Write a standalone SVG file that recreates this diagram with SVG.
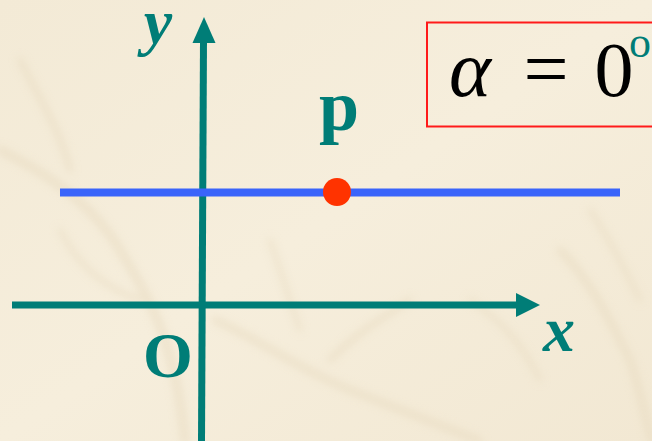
<svg xmlns="http://www.w3.org/2000/svg" width="652" height="441" viewBox="0 0 652 441">
  <defs>
    <style>
      .axis { stroke: #007D77; stroke-width: 7; fill: none; }
      .head { fill: #007D77; }
      .branch { stroke: #E4D6B9; fill: none; stroke-linecap: round; stroke-linejoin: round; }
    </style>
    <filter id="soft" x="-10%" y="-10%" width="120%" height="120%">
      <feGaussianBlur stdDeviation="4"/>
    </filter>
    <linearGradient id="bg" x1="0" y1="0" x2="1" y2="1">
      <stop offset="0" stop-color="#F3EAD6"/>
      <stop offset="0.5" stop-color="#F6EEDC"/>
      <stop offset="1" stop-color="#F2E8D3"/>
    </linearGradient>
  </defs>

  <!-- background -->
  <rect x="0" y="0" width="652" height="441" fill="url(#bg)"/>
  <g id="texture" filter="url(#soft)" opacity="0.5">
    <path class="branch" stroke-width="8" d="M0,150 C40,170 90,200 120,250 C150,300 175,340 185,441"/>
    <path class="branch" stroke-width="6" d="M20,60 C40,100 60,130 70,170"/>
    <path class="branch" stroke-width="5" d="M60,230 C80,270 110,290 140,300"/>
    <path class="branch" stroke-width="7" d="M215,320 C260,340 300,370 350,390 C400,410 440,425 480,441"/>
    <path class="branch" stroke-width="5" d="M270,240 C280,270 290,300 300,330"/>
    <path class="branch" stroke-width="6" d="M330,360 C360,330 380,320 410,300"/>
    <path class="branch" stroke-width="7" d="M560,250 C590,280 610,320 630,360 C640,390 646,420 652,441"/>
    <path class="branch" stroke-width="5" d="M590,210 C610,240 625,270 640,300"/>
    <path class="branch" stroke-width="5" d="M470,300 C500,320 520,340 540,380"/>
  </g>

  <!-- highlight box -->
  <g id="angle-box">
    <rect x="427" y="22.5" width="240" height="104" fill="none" stroke="#FF1A1A" stroke-width="2"/>
    <text x="470" y="96" font-family="Liberation Serif" font-size="80" font-style="italic" text-anchor="middle" fill="#000">α</text>
    <text x="546" y="96" font-family="Liberation Serif" font-size="80" text-anchor="middle" fill="#000">=</text>
    <text x="614" y="96" font-family="Liberation Serif" font-size="78" text-anchor="middle" fill="#000">0</text>
    <text x="640" y="57" font-family="Liberation Serif" font-size="44" text-anchor="middle" fill="#007D77">o</text>
  </g>

  <!-- connectors: axes -->
  <g id="axes">
    <line class="axis" x1="203.5" y1="40" x2="201.5" y2="441"/>
    <polygon class="head" points="204,17 192.5,43 215.5,43"/>
    <line class="axis" x1="12" y1="305" x2="518" y2="305"/>
    <polygon class="head" points="540,305 516,293 516,317"/>
  </g>

  <!-- horizontal line through p -->
  <g id="line-p">
    <line x1="60" y1="192.5" x2="620" y2="192.5" stroke="#3A64FA" stroke-width="8"/>
  </g>

  <g id="point-p">
    <circle cx="337" cy="192" r="14" fill="#FF3300"/>
    <text x="339" y="130" font-family="Liberation Serif" font-weight="bold" font-size="72" text-anchor="middle" fill="#007D77">p</text>
  </g>

  <g id="label-y">
    <text x="158" y="43" font-family="Liberation Serif" font-weight="bold" font-style="italic" font-size="64" text-anchor="middle" fill="#007D77">y</text>
  </g>
  <g id="label-x">
    <text x="559" y="351" font-family="Liberation Serif" font-weight="bold" font-style="italic" font-size="64" text-anchor="middle" fill="#007D77">x</text>
  </g>
  <g id="label-o">
    <text x="168" y="377" font-family="Liberation Serif" font-weight="bold" font-size="64" text-anchor="middle" fill="#007D77">O</text>
  </g>
</svg>
